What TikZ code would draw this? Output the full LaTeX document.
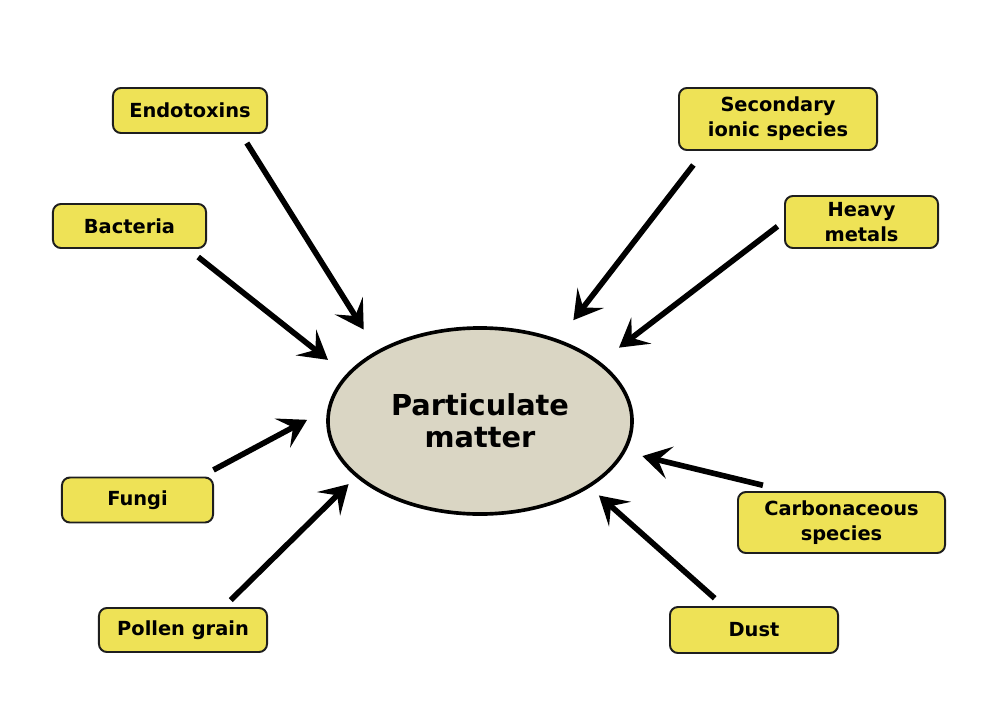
\documentclass[tikz,border=0pt]{standalone}
\usepackage{fontspec}
\setmainfont{DejaVu Sans}
\usetikzlibrary{shapes.geometric,arrows.meta}
\definecolor{boxyellow}{RGB}{238,226,86}
\definecolor{pmgrey}{RGB}{218,214,196}
\definecolor{edge}{RGB}{30,30,30}
\begin{document}
\begin{tikzpicture}[
    x=0.025cm,
    y=-0.025cm,
    source/.style={
        draw=edge,
        line width=1.4pt,
        rounded corners=0.2cm,
        fill=boxyellow,
        align=center,
        inner sep=0pt,
        outer sep=0pt,
        font=\fontsize{13.8}{17.8}\selectfont\bfseries
    },
    matter/.style={
        ellipse,
        draw=black,
        line width=2.6pt,
        fill=pmgrey,
        minimum width=7.6cm,
        minimum height=4.65cm,
        inner sep=0pt,
        outer sep=0pt,
        align=center,
        font=\fontsize{20.5}{22.5}\selectfont\bfseries
    },
    feed/.style={
        line width=4pt,
        -{Stealth[length=0.7cm,width=0.82cm,inset=0.3cm]}
    }
]
    \useasboundingbox (0,0) rectangle (984,722);

    \node[matter] (pm) at (480,421) {Particulate\\matter};

    \node[source,minimum width=3.85cm,minimum height=1.125cm] (endo) at (190,110.5)
        {Endotoxins};
    \node[source,minimum width=3.825cm,minimum height=1.1cm] (bact) at (129.5,226)
        {Bacteria};
    \node[source,minimum width=3.775cm,minimum height=1.125cm] (fungi) at (137.5,500)
        {Fungi};
    \node[source,minimum width=4.2cm,minimum height=1.1cm] (pollen) at (183,630)
        {Pollen grain};
    \node[source,minimum width=4.95cm,minimum height=1.55cm] (ionic) at (778,119)
        {Secondary\\ionic species};
    \node[source,minimum width=3.825cm,minimum height=1.3cm] (metals) at (861.5,222)
        {Heavy\\metals};
    \node[source,minimum width=5.175cm,minimum height=1.525cm] (carbon) at (841.5,522.5)
        {Carbonaceous\\species};
    \node[source,minimum width=4.2cm,minimum height=1.15cm] (dust) at (754,630)
        {Dust};

    % every source feeds the particulate matter
    \draw[feed,shorten <=0.295cm,shorten >=0.665cm] (endo.-24.8) -- (pm.146.3);
    \draw[feed,shorten <=0.363cm,shorten >=0.623cm] (bact.-21.1) -- (pm.161.1);
    \draw[feed,shorten <=0.4cm,shorten >=0.635cm] (fungi.20.1) -- (pm.175.1);
    \draw[feed,shorten <=0.283cm,shorten >=0.298cm] (pollen.29.4) -- (pm.-156.7);
    \draw[feed,shorten <=0.473cm,shorten >=0.655cm] (ionic.-157.4) -- (pm.46.2);
    \draw[feed,shorten <=0.235cm,shorten >=0.633cm] (metals.179.5) -- (pm.26.5);
    \draw[feed,shorten <=0.715cm,shorten >=0.483cm] (carbon.149.5) -- (pm.-12);
    \draw[feed,shorten <=0.33cm,shorten >=0.35cm] (dust.142) -- (pm.-31.5);
\end{tikzpicture}
\end{document}
